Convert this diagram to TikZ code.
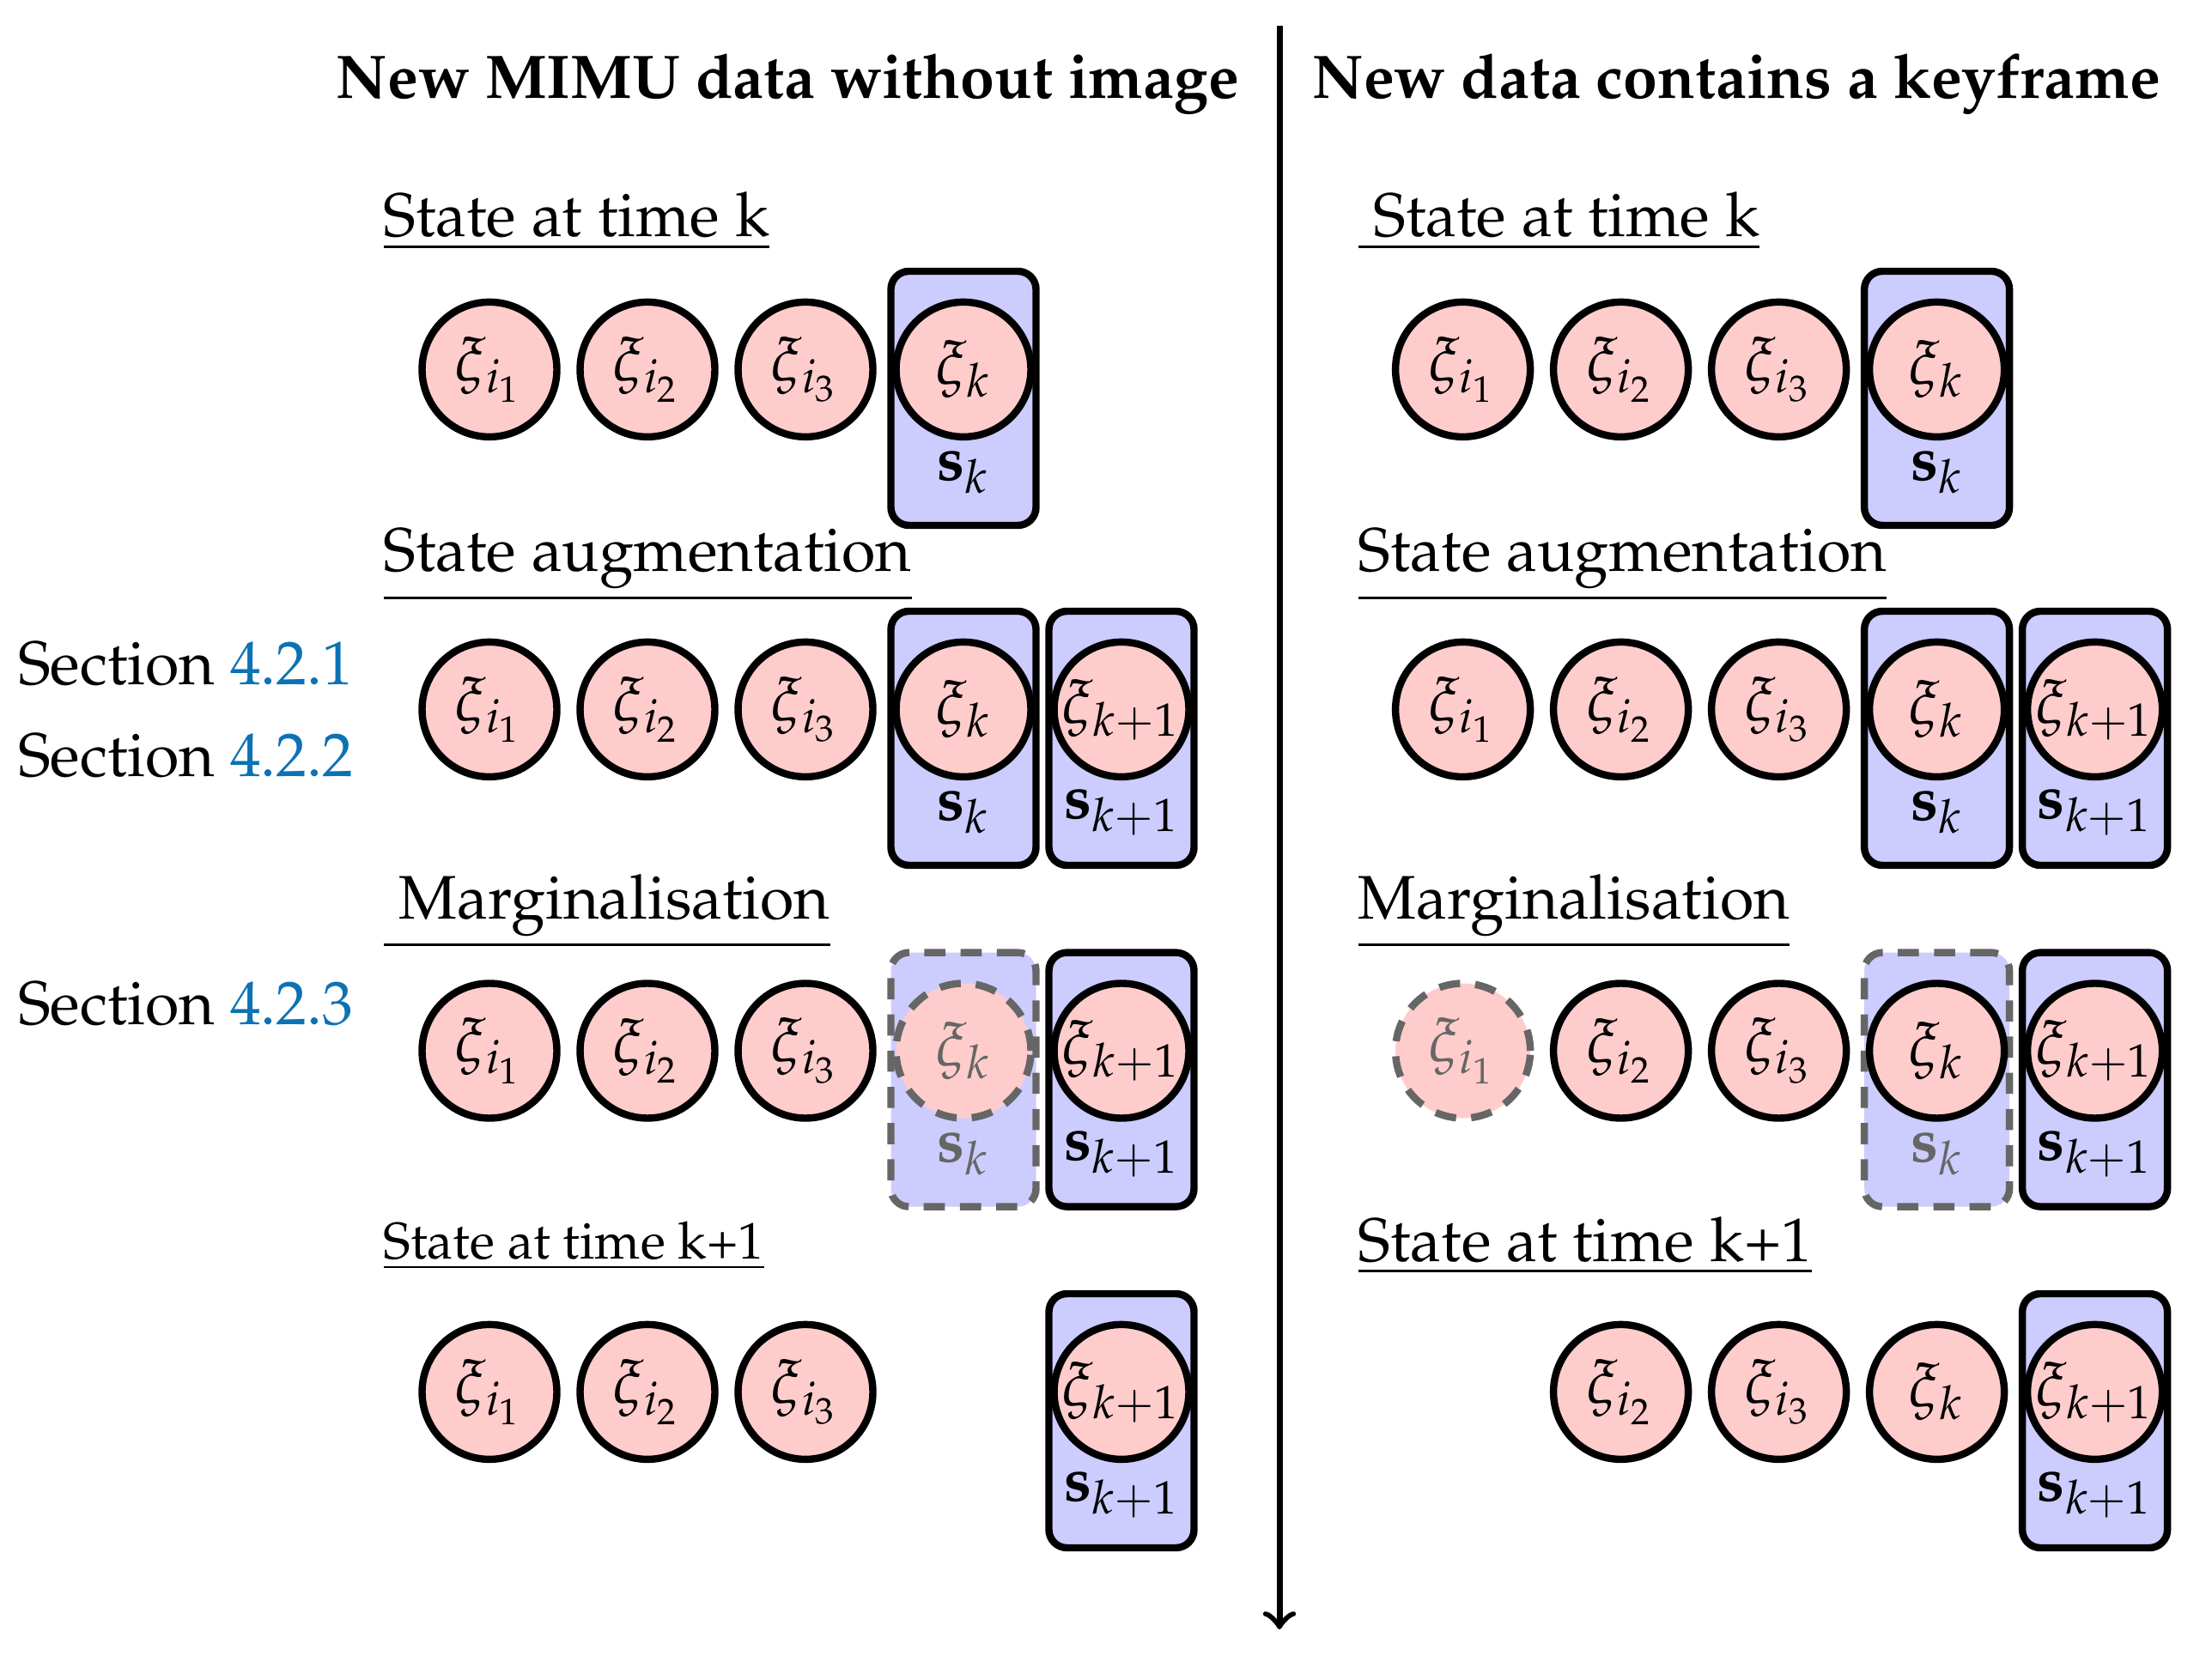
\documentclass[tikz,border=0pt,10pt]{standalone}
\usepackage[T1]{fontenc}
\usepackage{mathpazo}
\usepackage{xparse}
\usetikzlibrary{arrows}
\definecolor{lienbleu}{RGB}{12,114,180}

% un etat seul (cercle rose)
\NewDocumentCommand{\Etat}{O{}mmm}{%
    \node[etat,#1] (#2) at (#3) {$\xi_{#4}$};
}
% un etat dans son bloc bleu, avec le s en dessous
% #1 style du bloc, #2 style du cercle
\NewDocumentCommand{\Bloc}{O{}O{}mmm}{%
    \node[bloc,#1,yshift=-0.168cm] (b#3) at (#4) {};
    \node[#1,draw=none,yshift=-0.60cm] (s#3) at (#4) {$\mathbf{s}_{#5}$};
    \node[etat,#2] (#3) at (#4) {$\xi_{#5}$};
}

\begin{document}
\fontsize{10.2}{12.5}\selectfont
\begin{tikzpicture}[
    etat/.style={circle,draw,line width=1.2pt,fill=red!20,minimum size=0.785cm,inner sep=0pt},
    bloc/.style={draw,line width=1.2pt,fill=blue!20,rounded corners=3pt,minimum width=0.845cm,minimum height=1.48cm,inner sep=0pt},
    efface/.style={draw=black!60,dash pattern=on 3.5pt off 2.5pt,text=black!60},
    titre/.style={font=\bfseries,anchor=base,inner sep=0pt},
    soustitre/.style={anchor=base west,inner sep=0pt}]
\useasboundingbox (0,0) rectangle (12.88,-9.68);

% les deux titres et la fleche du temps
\node[titre] (tg) at (4.588,-0.575) {New MIMU data without image};
\node[titre] (td) at (10.111,-0.575) {New data contains a keyframe};
\coordinate (haut) at (7.45,-0.15);
\coordinate (bas) at (7.45,-9.49);
\draw[->,line width=1pt] (haut) -- (bas);

% renvois aux sections
\node[soustitre] (sec1) at (0.099,-3.99) {Section \textcolor{lienbleu}{4.2.1}};
\node[soustitre] (sec2) at (0.099,-4.525) {Section \textcolor{lienbleu}{4.2.2}};
\node[soustitre] (sec3) at (0.099,-5.966) {Section \textcolor{lienbleu}{4.2.3}};

% ---- a gauche : sans image
\node[soustitre] (gt1) at (2.226,-1.38) {\underline{State at time k}};
\node[soustitre] (gt2) at (2.226,-3.33) {\underline{State augmentation}};
\node[soustitre] (gt3) at (2.226,-5.35) {\underline{\ Marginalisation}};
\node[soustitre,font=\fontsize{8.55}{10}\selectfont] (gt4) at (2.226,-7.33) {\underline{State at time k+1}};

\foreach \y/\l in {-2.152/1,-4.132/2,-6.120/3,-8.107/4}
    \foreach \x/\n in {2.850/1,3.770/2,4.690/3}
        {\Etat{g\l i\n}{\x,\y}{i_\n}}

\Bloc{g1k}{5.610,-2.152}{k}
\Bloc{g2k}{5.610,-4.132}{k}
\Bloc{g2kk}{6.530,-4.132}{k+1}
\Bloc[efface][efface]{g3k}{5.610,-6.120}{k}
\Bloc{g3kk}{6.530,-6.120}{k+1}
\Bloc{g4kk}{6.530,-8.107}{k+1}

% ---- a droite : avec keyframe
\node[soustitre] (dt1) at (7.902,-1.38) {\underline{\ State at time k}};
\node[soustitre] (dt2) at (7.902,-3.33) {\underline{State augmentation}};
\node[soustitre] (dt3) at (7.902,-5.35) {\underline{Marginalisation}};
\node[soustitre] (dt4) at (7.902,-7.345) {\underline{State at time k+1}};

\foreach \y/\l in {-2.152/1,-4.132/2}
    \foreach \x/\n in {8.518/1,9.438/2,10.358/3}
        {\Etat{d\l i\n}{\x,\y}{i_\n}}
\Etat[efface]{d3i1}{8.518,-6.120}{i_1}
\Etat{d3i2}{9.438,-6.120}{i_2}
\Etat{d3i3}{10.358,-6.120}{i_3}
\Etat{d4i2}{9.438,-8.107}{i_2}
\Etat{d4i3}{10.358,-8.107}{i_3}
\Etat{d4k}{11.278,-8.107}{k}

\Bloc{d1k}{11.278,-2.152}{k}
\Bloc{d2k}{11.278,-4.132}{k}
\Bloc{d2kk}{12.198,-4.132}{k+1}
\Bloc[efface]{d3k}{11.278,-6.120}{k}
\Bloc{d3kk}{12.198,-6.120}{k+1}
\Bloc{d4kk}{12.198,-8.107}{k+1}

\end{tikzpicture}
\end{document}
